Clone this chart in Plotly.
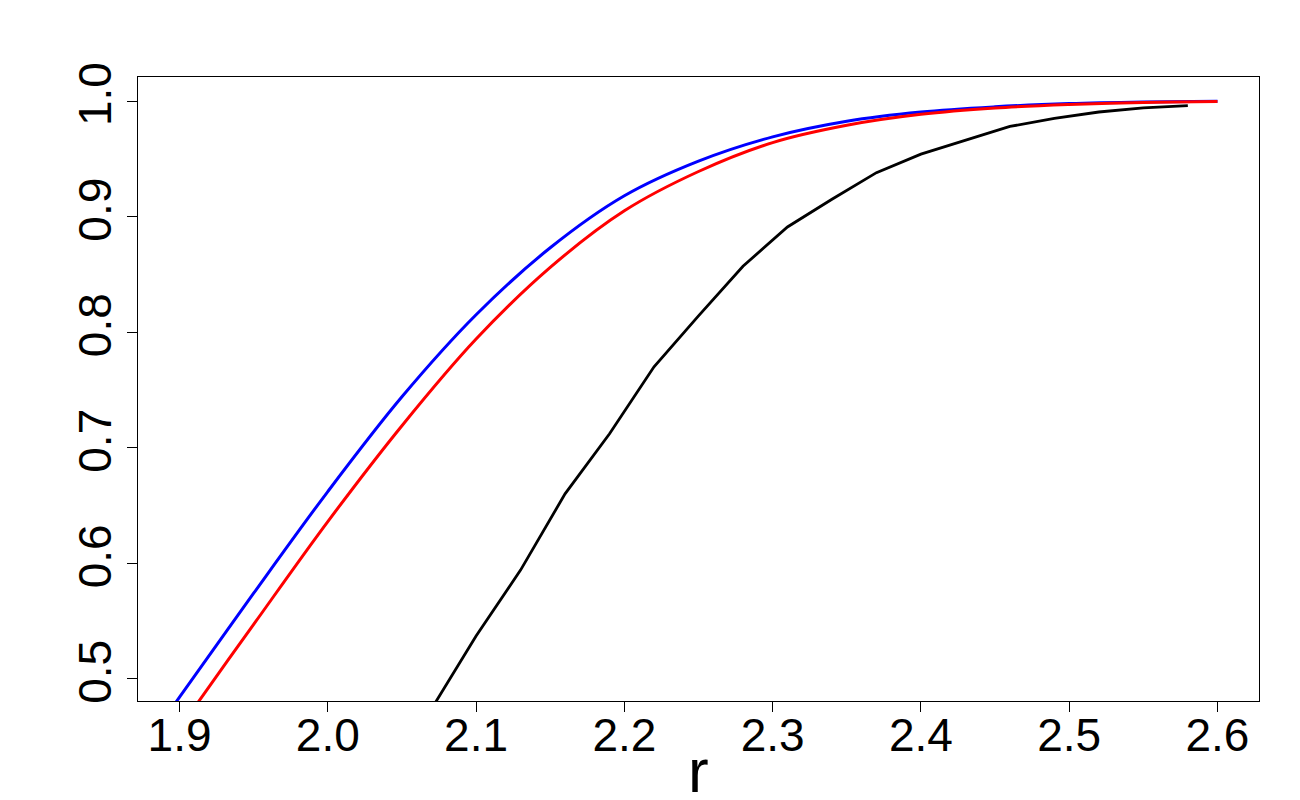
import plotly.graph_objects as go

# values
r_smooth = [1.88, 1.90, 1.95, 2.00, 2.05, 2.10, 2.15, 2.20, 2.25, 2.30, 2.35, 2.40, 2.45, 2.50, 2.55, 2.60]
blue_vals = [0.448, 0.484, 0.574, 0.662, 0.744, 0.815, 0.873, 0.918, 0.948, 0.969, 0.9825, 0.9905, 0.995, 0.9978, 0.9992, 0.9998]
red_vals = [0.420, 0.457, 0.547, 0.636, 0.719, 0.794, 0.856, 0.905, 0.939, 0.964, 0.979, 0.9885, 0.994, 0.997, 0.9988, 0.9996]

r_black = [2.04, 2.07, 2.10, 2.13, 2.16, 2.19, 2.22, 2.25, 2.28, 2.31, 2.34, 2.37,
           2.40, 2.43, 2.46, 2.49, 2.52, 2.55, 2.58]
black_vals = [0.415, 0.474, 0.537, 0.594, 0.660, 0.712, 0.770, 0.814, 0.857, 0.891, 0.915, 0.938,
              0.954, 0.966, 0.978, 0.985, 0.9905, 0.994, 0.996]

x_ticks = [1.9, 2.0, 2.1, 2.2, 2.3, 2.4, 2.5, 2.6]
y_ticks = [0.5, 0.6, 0.7, 0.8, 0.9, 1.0]

fig = go.Figure()
fig.add_trace(go.Scatter(x=r_smooth, y=blue_vals, mode="lines",
                         line=dict(color="#0000ff", width=3, shape="spline")))
fig.add_trace(go.Scatter(x=r_smooth, y=red_vals, mode="lines",
                         line=dict(color="#ff0000", width=3, shape="spline")))
fig.add_trace(go.Scatter(x=r_black, y=black_vals, mode="lines",
                         line=dict(color="#000000", width=2.8)))

font = "Liberation Sans, Arial, sans-serif"
# page body adds 8px, margins compensate for it
fig.update_layout(
    width=1300, height=800,
    margin=dict(l=130, r=49, t=69, b=107),
    paper_bgcolor="white", plot_bgcolor="white",
    showlegend=False,
    font=dict(family=font, color="black"),
)
fig.update_xaxes(
    range=[1.872, 2.628], tickvals=x_ticks, ticktext=[f"{v:.1f}" for v in x_ticks],
    showgrid=False, zeroline=False, showline=True, mirror=True, automargin=False,
    linecolor="black", linewidth=1, ticks="outside", ticklen=10, tickcolor="black",
    tickfont=dict(size=46), ticklabelstandoff=-16,
)
fig.update_yaxes(
    range=[0.4807, 1.0208], tickvals=y_ticks, ticktext=[f"{v:.1f}" for v in y_ticks],
    showgrid=False, zeroline=False, showline=True, mirror=True, automargin=False,
    linecolor="black", linewidth=1, ticks="outside", ticklen=10, tickcolor="black",
    tickfont=dict(size=46), tickangle=-90, ticklabelstandoff=-2,
)
fig.add_annotation(text="r", xref="paper", yref="paper", x=0.5, y=-0.112,
                   xanchor="center", yanchor="middle", showarrow=False,
                   font=dict(size=62, family=font, color="black"))

fig.write_html("out.html")
